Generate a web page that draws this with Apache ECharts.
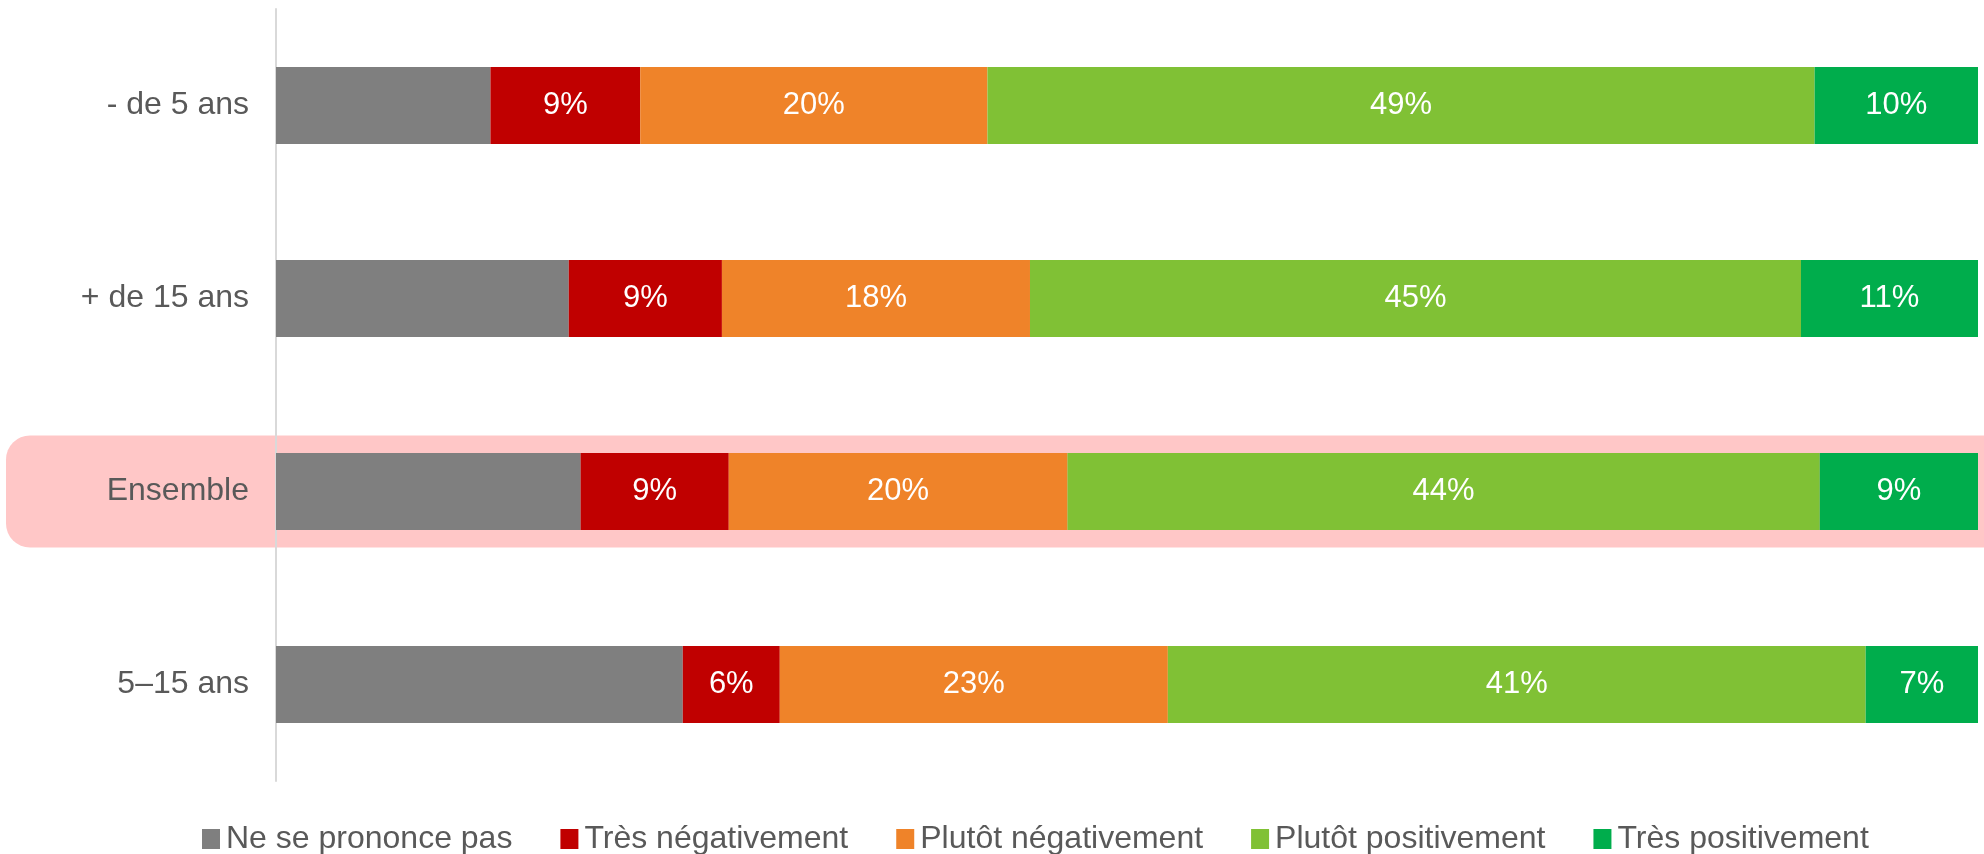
<!DOCTYPE html>
<html>
<head>
<meta charset="utf-8">
<script src="https://cdn.jsdelivr.net/npm/echarts@6/dist/echarts.min.js"></script>
<style>
  html, body { margin: 0; padding: 0; background: #fff; }
  #chart { width: 1984px; height: 854px; }
</style>
</head>
<body>
<div id="chart"></div>
<script>
// categories, top to bottom
var categories = ['- de 5 ans', '+ de 15 ans', 'Ensemble', '5–15 ans']
var seriesNames = ['Ne se prononce pas', 'Très négativement', 'Plutôt négativement', 'Plutôt positivement', 'Très positivement']
var colors = ['#7f7f7f', '#c00000', '#ef8329', '#80c135', '#00ad4c']

// values in %
var nspp = [12.6, 17.2, 17.9, 23.9]
var tresNeg = [8.8, 9.0, 8.7, 5.7]
var plutotNeg = [20.4, 18.1, 19.9, 22.8]
var plutotPos = [48.6, 45.3, 44.2, 41.0]
var tresPos = [9.7, 10.6, 9.3, 6.6]

var highlighted = 'Ensemble'

var chart = echarts.init(document.getElementById('chart'))
var allValues = [nspp, tresNeg, plutotNeg, plutotPos, tresPos]
var font = 'Liberation Sans, Arial'

var series = allValues.map(function (vals, i) {
  return {
    name: seriesNames[i],
    type: 'bar',
    stack: 'total',
    barCategoryGap: '60%',
    itemStyle: { color: colors[i] },
    label: {
      show: i > 0, // pas de label sur le gris
      position: 'inside',
      color: '#fff',
      fontSize: 31,
      fontFamily: font,
      formatter: function (p) {
        return Math.round(p.value) + '%'
      }
    },
    data: vals
  }
})

chart.setOption({
  animation: false,
  grid: { left: 276, right: 6, top: 9, bottom: 73 },
  legend: {
    bottom: -6,
    left: 197,
    itemWidth: 18,
    itemHeight: 20,
    itemGap: 48,
    icon: 'rect',
    textStyle: { color: '#595959', fontSize: 32, fontFamily: font, padding: [0, 0, 0, 1] },
    data: seriesNames
  },
  xAxis: { type: 'value', min: 0, max: 100, show: false },
  yAxis: {
    type: 'category',
    inverse: true,
    data: categories,
    axisTick: { show: false },
    axisLine: { show: true, lineStyle: { color: '#d9d9d9', width: 2 } },
    axisLabel: { color: '#595959', fontSize: 32, fontFamily: font, margin: 27 }
  },
  series: series
})

// bande rose derrière la ligne "Ensemble"
var yc = chart.convertToPixel({ yAxisIndex: 0 }, highlighted)
chart.setOption({
  graphic: [{
    type: 'rect',
    z: -10,
    shape: { x: 6, y: yc - 56, width: 2000, height: 112, r: [24, 0, 0, 24] },
    style: { fill: '#ffc7c7' }
  }]
})
</script>
</body>
</html>
